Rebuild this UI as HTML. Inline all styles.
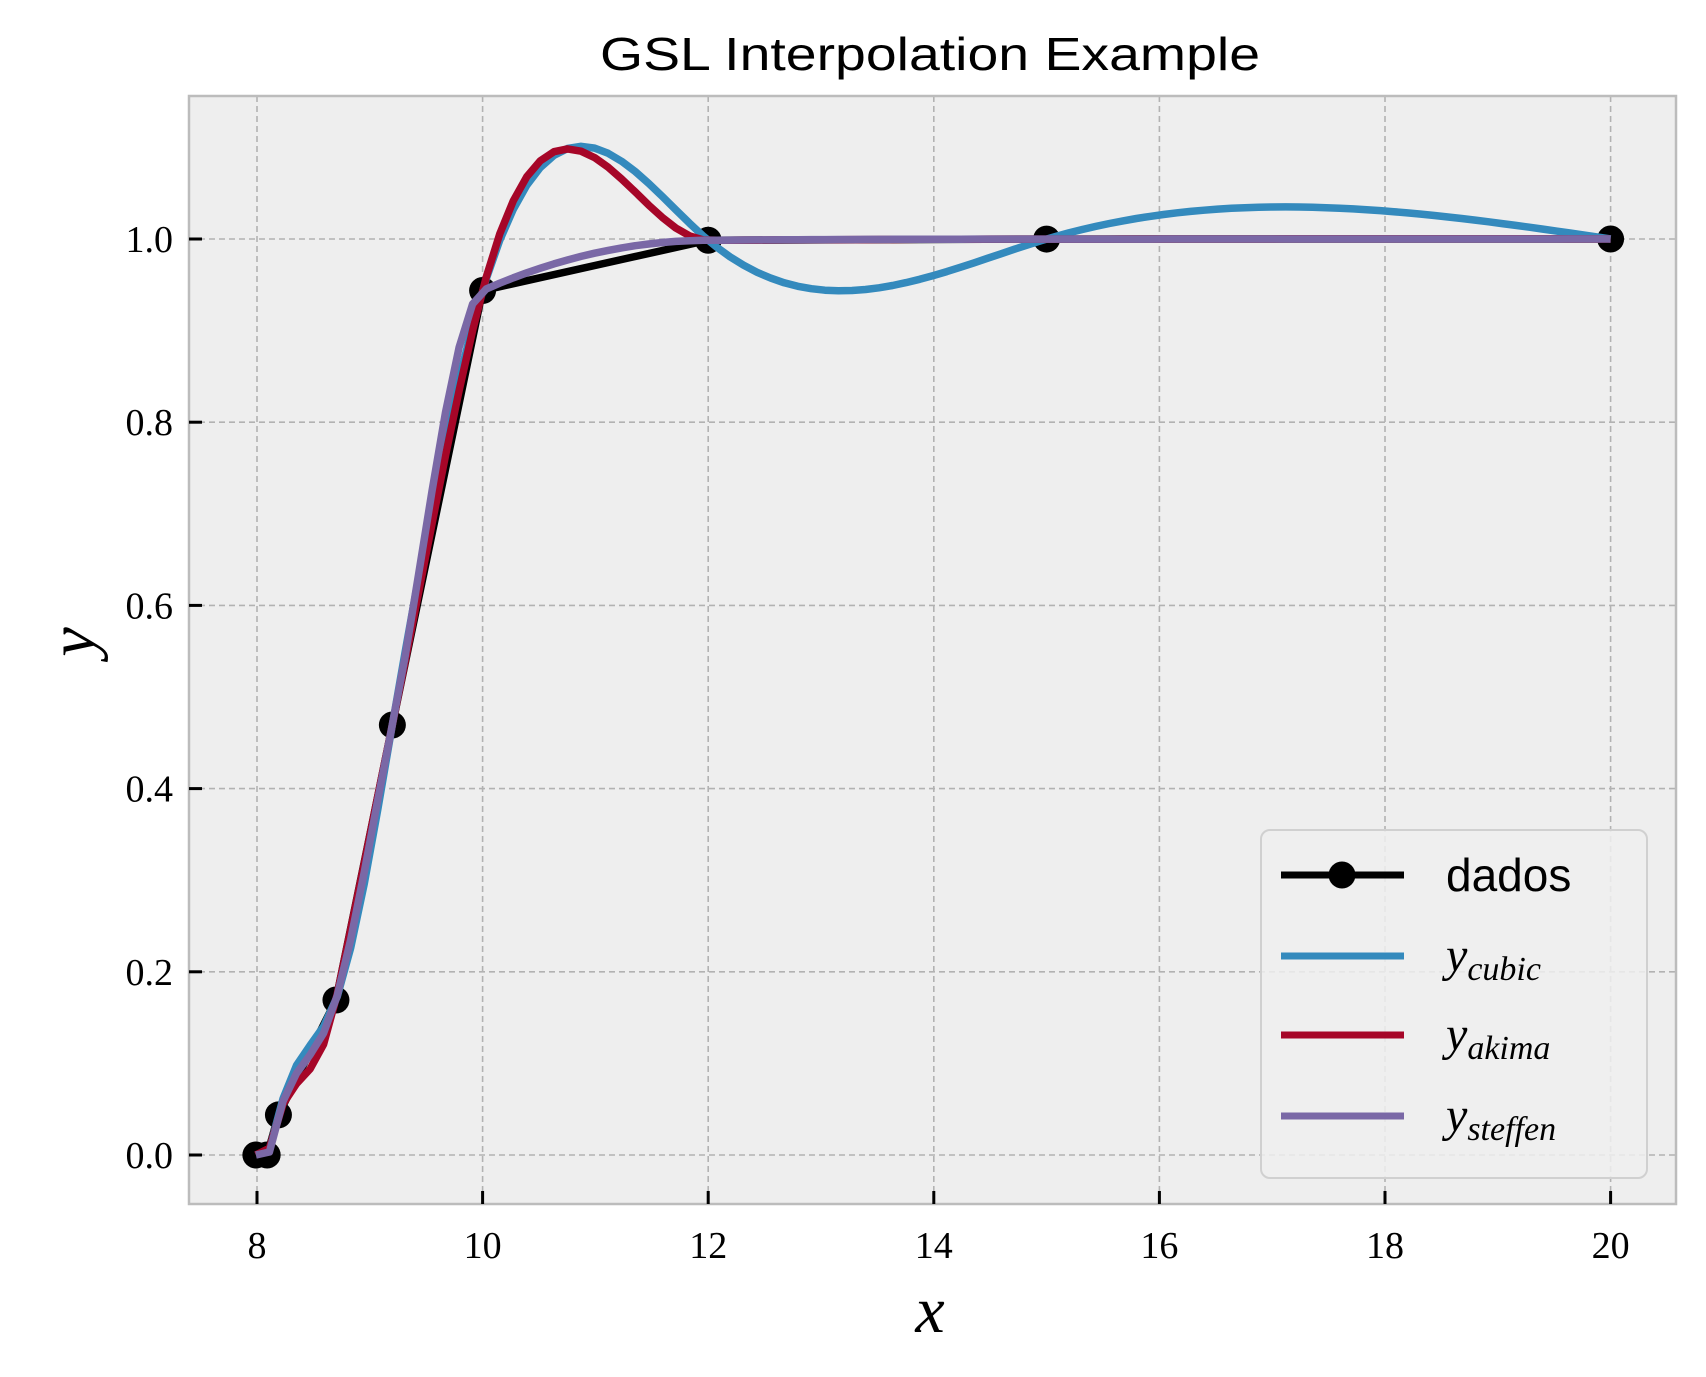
<!DOCTYPE html>
<html><head><meta charset="utf-8"><style>
html,body{margin:0;padding:0;background:#fff;}
svg{display:block;}
</style></head><body>
<svg id="chart" width="1706" height="1377" viewBox="0 0 1706 1377" xmlns="http://www.w3.org/2000/svg">
<rect x="0" y="0" width="1706" height="1377" fill="#fff"/>
<rect x="189" y="96" width="1487" height="1108" fill="#eeeeee"/>
<g id="grid"></g>
<g id="series"></g>
<rect x="189" y="96" width="1487" height="1108" fill="none" stroke="#bcbcbc" stroke-width="2.5"/>
<g id="ticks"></g>
<text x="930" y="70" text-anchor="middle" font-family="Liberation Sans, sans-serif" font-size="46" fill="#000" textLength="660" lengthAdjust="spacingAndGlyphs">GSL Interpolation Example</text>
<text x="930" y="1332" text-anchor="middle" font-family="Liberation Serif, serif" font-style="italic" font-size="66" fill="#000">x</text>
<text x="0" y="0" transform="translate(94,642) rotate(-90)" text-anchor="middle" font-family="Liberation Serif, serif" font-style="italic" font-size="66" fill="#000">y</text>
<g>
<rect x="1261" y="830" width="386" height="348" rx="9" fill="#eeeeee" fill-opacity="0.85" stroke="#d0d0d0" stroke-width="2"/>
<g>
<line x1="1281" y1="875" x2="1404" y2="875" stroke="#000" stroke-width="7"/>
<circle cx="1342" cy="875" r="13.5" fill="#000"/>
<text x="1446" y="891" font-family="Liberation Sans, sans-serif" font-size="46" fill="#000">dados</text>
</g>
<g>
<line x1="1281" y1="956" x2="1404" y2="956" stroke="#348ABD" stroke-width="7"/>
<text x="1446" y="971" font-family="Liberation Serif, serif" font-style="italic" font-size="48" fill="#000">y<tspan font-size="34" dy="9">cubic</tspan></text>
</g>
<g>
<line x1="1281" y1="1035" x2="1404" y2="1035" stroke="#A60628" stroke-width="7"/>
<text x="1446" y="1050" font-family="Liberation Serif, serif" font-style="italic" font-size="48" fill="#000">y<tspan font-size="34" dy="9">akima</tspan></text>
</g>
<g>
<line x1="1281" y1="1116" x2="1404" y2="1116" stroke="#7A68A6" stroke-width="7"/>
<text x="1446" y="1131" font-family="Liberation Serif, serif" font-style="italic" font-size="48" fill="#000">y<tspan font-size="34" dy="9">steffen</tspan></text>
</g>
</g>
</svg>
<script>
const xData = [7.99, 8.09, 8.19, 8.7, 9.2, 10.0, 12.0, 15.0, 20.0];
const yData = [0.0, 0.0000276, 0.04375, 0.169183, 0.469428, 0.94374, 0.998636, 0.999919, 0.999994];
const xTicks = [8, 10, 12, 14, 16, 18, 20];
const yTicks = [0.0, 0.2, 0.4, 0.6, 0.8, 1.0];
const xTickLabels = ["8", "10", "12", "14", "16", "18", "20"];
const yTickLabels = ["0.0", "0.2", "0.4", "0.6", "0.8", "1.0"];

const NS = "http://www.w3.org/2000/svg";
const L = 189, R = 1676, T = 96, B = 1204;
function sx(v){ return 257 + (v - 8) * 112.8; }
function sy(v){ return 1155 - v * 916; }
function mk(tag, attrs, parent){ const e = document.createElementNS(NS, tag); for (const k in attrs) e.setAttribute(k, attrs[k]); parent.appendChild(e); return e; }

const grid = document.getElementById('grid');
const ticks = document.getElementById('ticks');
xTicks.forEach((t, i) => {
  const g = mk('line', {x1: sx(t), x2: sx(t), y1: T, y2: B, stroke: '#b2b2b2', 'stroke-width': 1.6, 'stroke-dasharray': '6,4'}, grid);
  
  
  const tk = mk('line', {x1: sx(t), x2: sx(t), y1: B, y2: B - 13, stroke: '#000', 'stroke-width': 3}, ticks);
  
  
  const lb = mk('text', {x: sx(t), y: 1258, 'text-anchor': 'middle', 'font-family': 'Liberation Serif, serif', 'font-size': 38, fill: '#000'}, ticks);
  lb.textContent = xTickLabels[i];
  
  
});
yTicks.forEach((t, i) => {
  const g = mk('line', {x1: L, x2: R, y1: sy(t), y2: sy(t), stroke: '#b2b2b2', 'stroke-width': 1.6, 'stroke-dasharray': '6,4'}, grid);
  
  
  const tk = mk('line', {x1: L, x2: L + 13, y1: sy(t), y2: sy(t), stroke: '#000', 'stroke-width': 3}, ticks);
  
  
  const lb = mk('text', {x: 173, y: sy(t) + 13, 'text-anchor': 'end', 'font-family': 'Liberation Serif, serif', 'font-size': 38, fill: '#000'}, ticks);
  lb.textContent = yTickLabels[i];
  
  
});

function hermite(xs, ys, d, x){
  let i = 0; while (i < xs.length - 2 && x > xs[i+1]) i++;
  const h = xs[i+1] - xs[i], t = (x - xs[i]) / h;
  const h00 = 2*t*t*t - 3*t*t + 1, h10 = t*t*t - 2*t*t + t, h01 = -2*t*t*t + 3*t*t, h11 = t*t*t - t*t;
  return h00*ys[i] + h10*h*d[i] + h01*ys[i+1] + h11*h*d[i+1];
}
function cubicNatural(xs, ys){
  const n = xs.length, h = [];
  for (let i = 0; i < n-1; i++) h.push(xs[i+1]-xs[i]);
  const M = new Array(n).fill(0);
  const m = n - 2; const diag = [], off = [], rhs = [];
  for (let i = 1; i < n-1; i++){ diag.push(2*(h[i-1]+h[i])); rhs.push(6*((ys[i+1]-ys[i])/h[i] - (ys[i]-ys[i-1])/h[i-1])); off.push(h[i]); }
  for (let i = 1; i < m; i++){ const w = off[i-1]/diag[i-1]; diag[i] -= w*off[i-1]; rhs[i] -= w*rhs[i-1]; }
  const sol = new Array(m); sol[m-1] = rhs[m-1]/diag[m-1];
  for (let i = m-2; i >= 0; i--) sol[i] = (rhs[i] - off[i]*sol[i+1])/diag[i];
  for (let i = 0; i < m; i++) M[i+1] = sol[i];
  return function(x){
    let i = 0; while (i < n-2 && x > xs[i+1]) i++;
    const hh = h[i], A = (xs[i+1]-x)/hh, Bc = (x-xs[i])/hh;
    return A*ys[i] + Bc*ys[i+1] + ((A*A*A-A)*M[i] + (Bc*Bc*Bc-Bc)*M[i+1])*hh*hh/6;
  };
}
function akima(xs, ys){
  const n = xs.length, m = {};
  for (let i = 0; i < n-1; i++) m[i] = (ys[i+1]-ys[i])/(xs[i+1]-xs[i]);
  m[-1] = 2*m[0]-m[1]; m[-2] = 3*m[0]-2*m[1];
  m[n-1] = 2*m[n-2]-m[n-3]; m[n] = 3*m[n-2]-2*m[n-3];
  const d = [];
  for (let i = 0; i < n; i++){
    const w1 = Math.abs(m[i+1]-m[i]), w2 = Math.abs(m[i-1]-m[i-2]);
    d.push(w1 + w2 === 0 ? 0.5*(m[i-1]+m[i]) : (w1*m[i-1] + w2*m[i])/(w1+w2));
  }
  return x => hermite(xs, ys, d, x);
}
function steffen(xs, ys){
  const n = xs.length, h = [], s = [], d = [];
  for (let i = 0; i < n-1; i++){ h.push(xs[i+1]-xs[i]); s.push((ys[i+1]-ys[i])/h[i]); }
  const sgn = v => v > 0 ? 1 : (v < 0 ? -1 : 0);
  for (let i = 0; i < n; i++){
    if (i === 0){ const p = s[0]*(1 + h[0]/(h[0]+h[1])) - s[1]*h[0]/(h[0]+h[1]); d.push(sgn(p) !== sgn(s[0]) ? 0 : (Math.abs(p) > 2*Math.abs(s[0]) ? 2*s[0] : p)); }
    else if (i === n-1){ const k = n-2; const p = s[k]*(1 + h[k]/(h[k]+h[k-1])) - s[k-1]*h[k]/(h[k]+h[k-1]); d.push(sgn(p) !== sgn(s[k]) ? 0 : (Math.abs(p) > 2*Math.abs(s[k]) ? 2*s[k] : p)); }
    else { const p = (s[i-1]*h[i] + s[i]*h[i-1])/(h[i-1]+h[i]); d.push((sgn(s[i-1]) + sgn(s[i])) * Math.min(Math.abs(s[i-1]), Math.abs(s[i]), 0.5*Math.abs(p))); }
  }
  return x => hermite(xs, ys, d, x);
}

const seriesG = document.getElementById('series');
function drawCurve(f, color, name){
  const N = 100, x0 = xData[0], x1 = xData[xData.length-1];
  let pts = [];
  for (let k = 0; k <= N; k++){ const x = x0 + (x1-x0)*k/N; pts.push(sx(x).toFixed(1) + ',' + sy(f(x)).toFixed(1)); }
  const p = mk('polyline', {points: pts.join(' '), fill: 'none', stroke: color, 'stroke-width': 7.5, 'stroke-linejoin': 'round'}, seriesG);
  
  
}
const dl = mk('polyline', {points: xData.map((x, i) => sx(x) + ',' + sy(yData[i])).join(' '), fill: 'none', stroke: '#000', 'stroke-width': 7.5, 'stroke-linejoin': 'round'}, seriesG);


xData.forEach((x, i) => {
  const c = mk('circle', {cx: sx(x), cy: sy(yData[i]), r: 13.5, fill: '#000'}, seriesG);
  
  
});
drawCurve(cubicNatural(xData, yData), '#348ABD', 'cubic-curve');
drawCurve(akima(xData, yData), '#A60628', 'akima-curve');
drawCurve(steffen(xData, yData), '#7A68A6', 'steffen-curve');
</script>
</body></html>
